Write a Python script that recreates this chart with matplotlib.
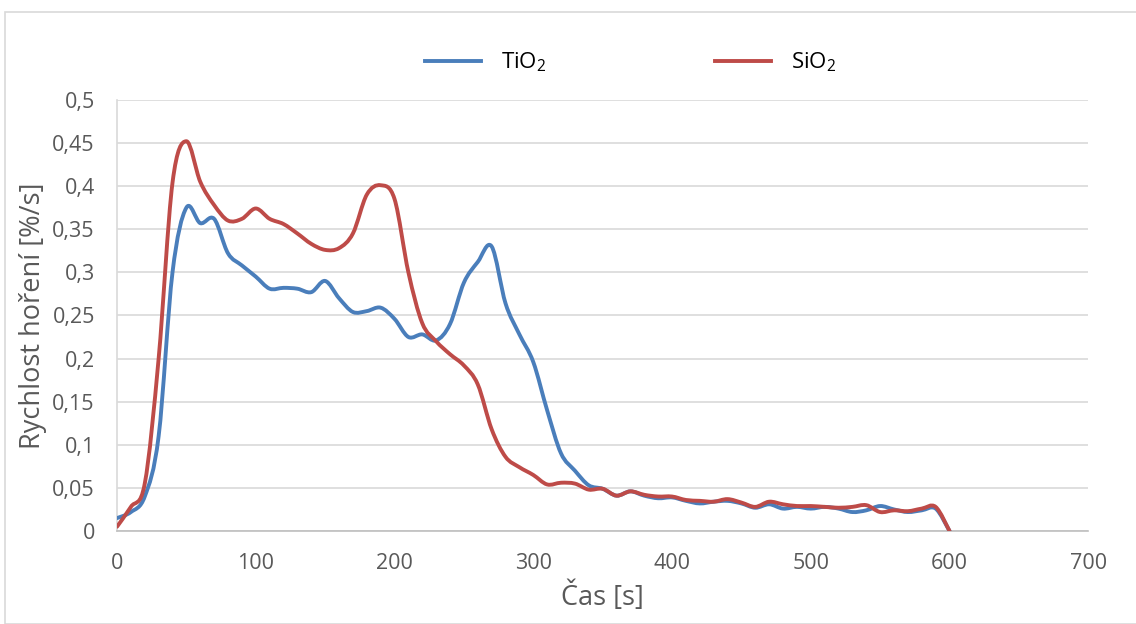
import matplotlib
matplotlib.use("Agg")
import matplotlib.pyplot as plt
from matplotlib.patches import Rectangle, PathPatch
from matplotlib.path import Path
from matplotlib.lines import Line2D
from matplotlib.ticker import FuncFormatter

plt.rcParams['font.family'] = ['Open Sans', 'DejaVu Sans']
plt.rcParams['mathtext.fontset'] = 'custom'
plt.rcParams['mathtext.rm'] = 'Open Sans'
plt.rcParams['mathtext.it'] = 'Open Sans'

# casy mereni [s]
cas = list(range(0, 601, 10))

tio2 = [0.015, 0.022, 0.040, 0.110, 0.300, 0.375, 0.357, 0.362, 0.322, 0.308,
        0.295, 0.281, 0.282, 0.281, 0.277, 0.290, 0.270, 0.254, 0.255, 0.259,
        0.246, 0.225, 0.228, 0.221, 0.240, 0.288, 0.312, 0.330, 0.264, 0.228,
        0.196, 0.140, 0.090, 0.070, 0.053, 0.049, 0.041, 0.046, 0.041, 0.038,
        0.039, 0.035, 0.032, 0.034, 0.035, 0.032, 0.027, 0.031, 0.026, 0.028,
        0.026, 0.028, 0.026, 0.022, 0.024, 0.029, 0.025, 0.022, 0.024, 0.026,
        0.000]

sio2 = [0.005, 0.028, 0.055, 0.200, 0.404, 0.452, 0.405, 0.378, 0.360, 0.362,
        0.374, 0.362, 0.356, 0.345, 0.333, 0.326, 0.328, 0.345, 0.390, 0.401,
        0.385, 0.300, 0.241, 0.220, 0.205, 0.192, 0.170, 0.118, 0.086, 0.074,
        0.065, 0.054, 0.056, 0.055, 0.048, 0.049, 0.041, 0.046, 0.042, 0.040,
        0.040, 0.036, 0.035, 0.034, 0.037, 0.033, 0.028, 0.034, 0.031, 0.029,
        0.029, 0.028, 0.027, 0.028, 0.030, 0.022, 0.024, 0.023, 0.026, 0.028,
        0.000]

x_ticks = [0, 100, 200, 300, 400, 500, 600, 700]
y_ticks = [0, 0.05, 0.1, 0.15, 0.2, 0.25, 0.3, 0.35, 0.4, 0.45, 0.5]

blue = '#4a7ebb'
red = '#be4b48'


# vyhlazena cara jako v Excelu (Bezierovy krivky mezi body)
def smooth_path(xs, ys):
    pts = list(zip(xs, ys))
    n = len(pts)
    verts = [pts[0]]
    codes = [Path.MOVETO]
    for i in range(n - 1):
        p0 = pts[max(i - 1, 0)]
        p1 = pts[i]
        p2 = pts[i + 1]
        p3 = pts[min(i + 2, n - 1)]
        c1 = (p1[0] + (p2[0] - p0[0]) / 6, p1[1] + (p2[1] - p0[1]) / 6)
        c2 = (p2[0] - (p3[0] - p1[0]) / 6, p2[1] - (p3[1] - p1[1]) / 6)
        verts += [c1, c2, p2]
        codes += [Path.CURVE4] * 3
    return Path(verts, codes)


fig = plt.figure(figsize=(11.36, 6.24), dpi=100)
ax = fig.add_axes([0.103, 0.149, 0.855, 0.691])

for ys, col in [(tio2, blue), (sio2, red)]:
    ax.add_patch(PathPatch(smooth_path(cas, ys), fill=False, edgecolor=col,
                           lw=2.8, joinstyle='round', capstyle='round', zorder=3))

ax.set_xlim(0, 700)
ax.set_ylim(0, 0.5)
ax.set_xticks(x_ticks)
ax.set_yticks(y_ticks)
fmt = FuncFormatter(lambda v, p: f"{v:g}".replace('.', ','))
ax.yaxis.set_major_formatter(fmt)
ax.xaxis.set_major_formatter(fmt)
ax.tick_params(length=0, labelsize=15.5, colors='#595959')
ax.tick_params(axis='x', pad=16)
ax.tick_params(axis='y', pad=16)
ax.grid(axis='y', color='#d9d9d9', lw=1.2)
ax.set_axisbelow(True)
for s in ['top', 'right']:
    ax.spines[s].set_visible(False)
ax.spines['left'].set_color('#d9d9d9')
ax.spines['bottom'].set_color('#bfbfbf')
ax.spines['left'].set_linewidth(1.2)
ax.spines['bottom'].set_linewidth(1.2)

ax.set_xlabel('Čas [s]', fontsize=19.5, color='#595959', labelpad=5)
ax.set_ylabel('Rychlost hoření [%/s]', fontsize=19.5, color='#595959', labelpad=4)

handles = [Line2D([], [], color=blue, lw=2.8), Line2D([], [], color=red, lw=2.8)]
leg = fig.legend(handles, [r'TiO$_2$', r'SiO$_2$'], loc='center',
                 bbox_to_anchor=(0.555, 0.9), ncol=2, frameon=False,
                 fontsize=16, handlelength=2.5, columnspacing=7.6, handletextpad=0.9)

fig.patches.append(Rectangle((0.004, 0.0), 1.0, 0.98, transform=fig.transFigure,
                             fill=False, edgecolor='#d9d9d9', lw=1.2))

fig.savefig('out.png', dpi=100)
